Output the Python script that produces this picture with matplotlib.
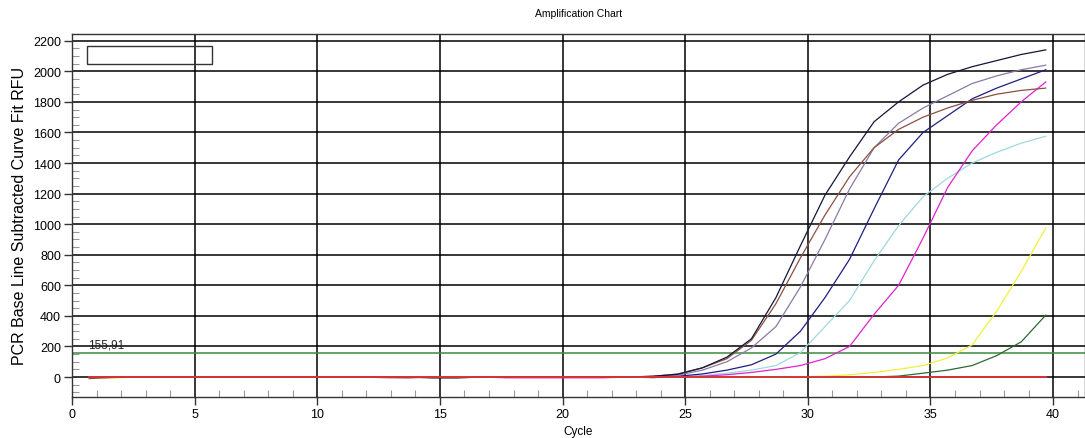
import numpy as np
import matplotlib
matplotlib.use("Agg")
import matplotlib.pyplot as plt
import matplotlib.patches as patches
from matplotlib.ticker import MultipleLocator

plt.rcParams['font.family'] = ['Liberation Sans', 'DejaVu Sans']

# cycle positions of the readings (40 cycles)
cycles = np.arange(40) + 0.7

# baseline-subtracted RFU per well
navy = [0, 0, 0, 0, 0, 0, 0, 0, 0, 0, 0, 0, 0, 0, -6, -6, 0, 0, 0, 0,
        0, 0, 0, 5, 18, 60, 130, 250, 520, 860, 1190, 1440, 1670, 1800, 1910, 1980,
        2030, 2070, 2110, 2140]
brown = [-10, -3, 0, 0, 0, 0, 0, 0, 0, 0, 0, 0, -4, -6, 0, 0, 0, 0, 0, 0,
         0, 0, 0, 5, 20, 60, 120, 240, 480, 780, 1060, 1310, 1500, 1620, 1700, 1760,
         1810, 1850, 1875, 1890]
lavender = [0, 0, 0, 0, 0, 0, 0, 0, 0, 0, 0, 0, 0, 0, 0, 0, 0, 0, 0, 0,
            0, 0, 0, 3, 12, 45, 100, 190, 330, 590, 900, 1230, 1500, 1660, 1760, 1840,
            1920, 1970, 2010, 2040]
blue = [0, 0, 0, 0, 0, 0, 0, 0, 0, 0, 0, 0, 0, 0, 0, 0, 0, 0, 0, 0,
        0, 0, 0, -4, 5, 20, 45, 80, 150, 300, 520, 770, 1100, 1420, 1600, 1710,
        1820, 1890, 1950, 2010]
magenta = [0, 0, 0, 0, 0, 0, 0, 0, 0, 0, 0, 0, 0, 0, 0, 0, 0, -5, -5, -5,
           -5, -5, 0, 0, 0, 5, 15, 30, 50, 75, 120, 200, 410, 600, 910, 1240,
           1480, 1650, 1800, 1930]
cyan = [0, 0, 0, 0, 0, 0, 0, 0, 0, 0, 0, 0, 0, 0, 0, 0, 0, 0, 0, 0,
        0, 0, 0, 0, 3, 10, 25, 45, 75, 160, 330, 500, 760, 990, 1180, 1300,
        1400, 1470, 1530, 1575]
yellow = [-6, -6, 0, 0, 0, 0, 0, 0, 0, 0, 0, 0, 0, 0, 0, 0, 0, 0, 0, 0,
          0, 0, 0, 0, 0, 0, 0, 0, 0, 2, 5, 15, 30, 50, 75, 125,
          210, 430, 690, 975]
green = [0, 0, 0, 0, 0, 0, 0, 0, 0, 0, 0, 0, 0, 0, 0, 0, 0, 0, 0, 0,
         0, 0, 0, 0, 0, 0, 0, 0, 0, 0, 0, 0, 0, 6, 25, 45,
         75, 140, 230, 405]
red = [0, 0, 0, 0, 0, 0, 0, 0, 0, 0, 0, 0, 0, 0, 0, 0, 0, 0, 0, 0,
       0, 0, 0, 0, 0, 0, 0, 0, 0, 0, 0, 0, 0, 0, 0, 0,
       0, 0, 0, 0]

threshold = 155.91

series = [
    (yellow, '#f2f03a'),
    (green, '#2c6a30'),
    (cyan, '#9fd8e0'),
    (magenta, '#e022d0'),
    (blue, '#1e1e82'),
    (lavender, '#8a7aa6'),
    (brown, '#8c5040'),
    (navy, '#15153a'),
]

fig = plt.figure(figsize=(10.85, 4.39), dpi=100)
ax = fig.add_axes([0.0664, 0.094, 0.9336, 0.827])

ax.set_xlim(0, 41.3)
ax.set_ylim(-129, 2246)

# grid
ax.xaxis.set_major_locator(MultipleLocator(5))
ax.yaxis.set_major_locator(MultipleLocator(200))
ax.xaxis.set_minor_locator(MultipleLocator(1))
ax.yaxis.set_minor_locator(MultipleLocator(50))
ax.grid(True, which='major', color='black', linewidth=1.1, zorder=1)
ax.set_axisbelow(True)

ax.axhline(threshold, color='#3a8c3a', linewidth=1.1, zorder=2)
ax.text(0.66, 211, '155,91', fontsize=8.5, ha='left', va='center', color='#222222', zorder=3)

for vals, col in series:
    ax.plot(cycles, vals, color=col, linewidth=0.9, zorder=4)
# flat well sits on top of the baseline
ax.plot(cycles, red, color='#e03535', linewidth=1.3, zorder=4.5)

# empty legend frame
box = patches.Rectangle((0.62, 2048), 5.07, 119, edgecolor='#333333',
                        facecolor='none', linewidth=1.0, zorder=5)
ax.add_patch(box)

for s in ax.spines.values():
    s.set_color('#333333')
    s.set_linewidth(1.0)

ax.tick_params(which='major', direction='out', length=6, width=1, color='#333333',
               labelsize=9, pad=2)
ax.tick_params(which='minor', direction='in', length=5, width=0.8, color='#999999')
ax.tick_params(axis='y', which='minor', left=True)

ax.set_title('Amplification Chart', fontsize=7.5, pad=13)
ax.set_xlabel('Cycle', fontsize=8.5, labelpad=4)
ax.set_ylabel('PCR Base Line Subtracted Curve Fit RFU', fontsize=11.5, labelpad=4)

fig.savefig('out.png', dpi=100)
